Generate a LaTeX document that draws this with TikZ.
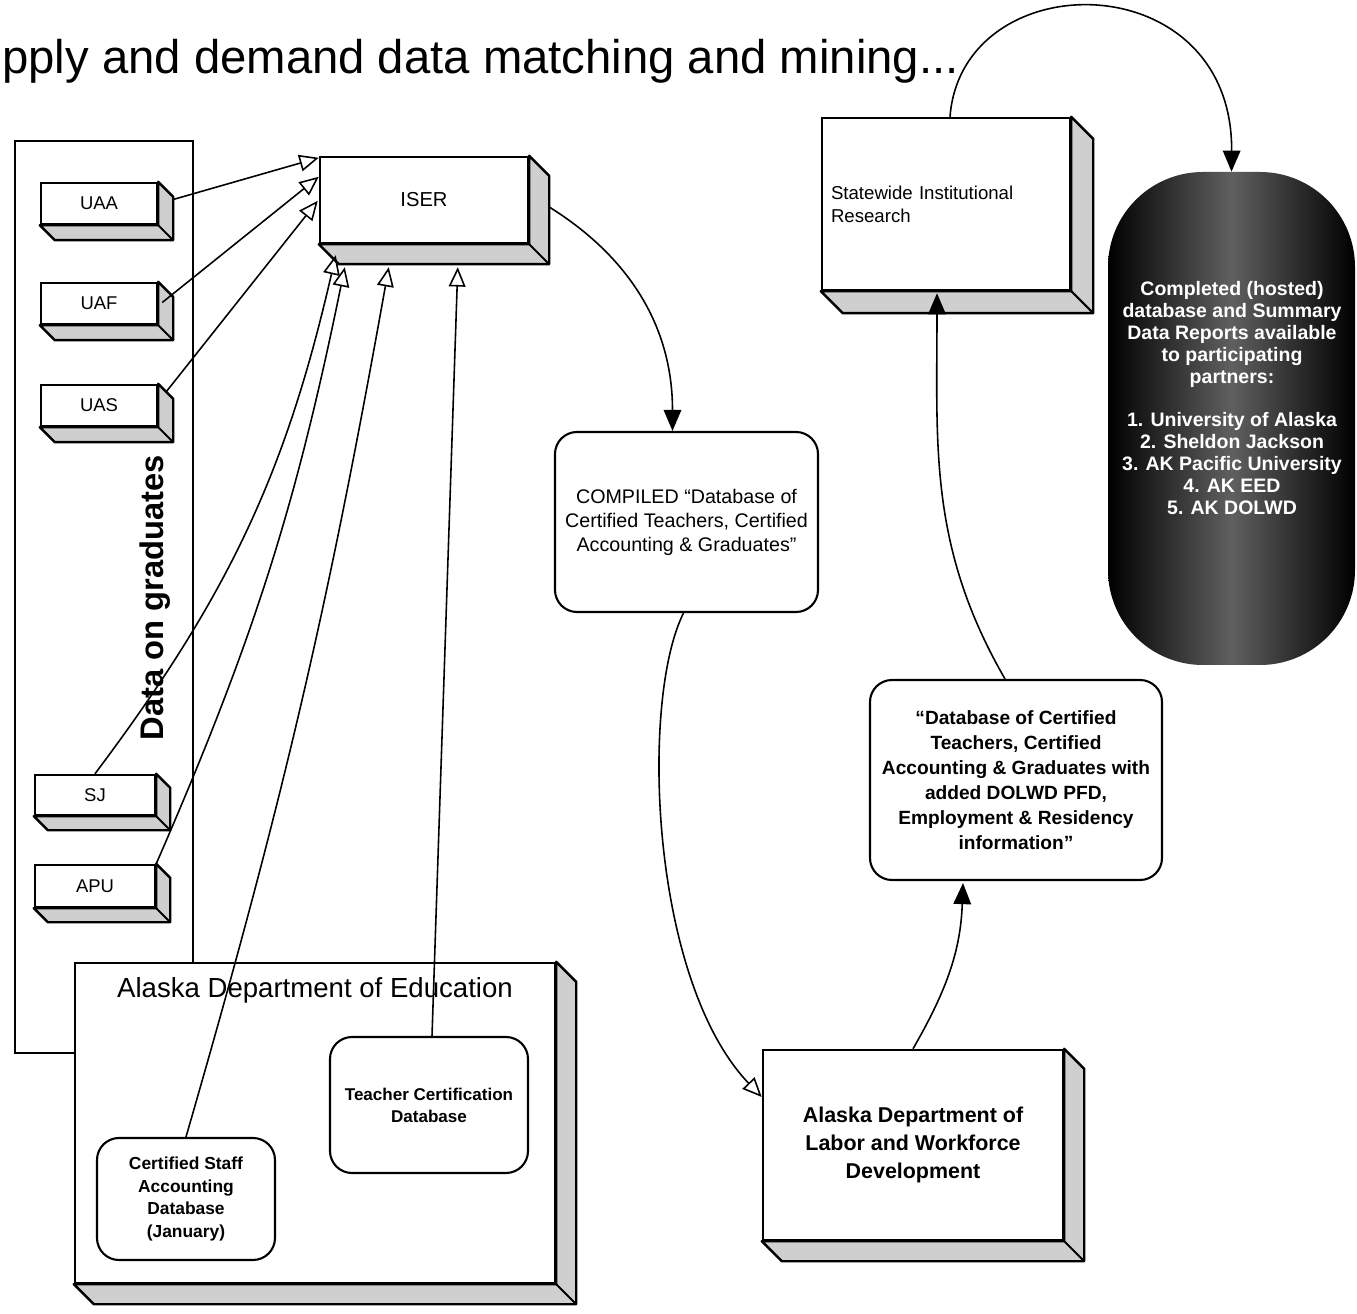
\documentclass[tikz,border=0pt]{standalone}
\usepackage{fontspec}
\setmainfont{Liberation Sans}
\usetikzlibrary{arrows.meta,calc}
\newcommand{\extrude}[2]{%
  \filldraw[sideface] (#1.north east) -- ++(#2,-#2) -- ([shift={(#2,-#2)}]#1.south east) -- ([shift={(#2,-#2)}]#1.south west) -- (#1.south west) -- (#1.south east) -- cycle;
  \draw[line width=1.2pt] (#1.south east) -- ++(#2,-#2);
}
\begin{document}
\begin{tikzpicture}[x=0.02cm,y=0.02cm,
  sz/.style 2 args={minimum width=#1*0.02cm, minimum height=#2*0.02cm},
  fs/.style 2 args={font=\fontsize{#1}{#2}\selectfont},
  fsb/.style 2 args={font=\fontsize{#1}{#2}\selectfont\bfseries},
  front/.style={draw, line width=1.4pt, fill=white, inner sep=0pt, align=center},
  rbox/.style={draw, line width=1.2pt, fill=white, inner sep=0pt, align=center, rounded corners=0.44cm},
  sideface/.style={fill=gray!38, draw, line width=1.4pt, line join=round},
  conn/.style={line width=0.9pt},
  hollow/.style={conn, -{Triangle[open, length=11pt, width=9.5pt]}},
  filledtip/.style={conn, -{Triangle[length=12pt, width=10pt]}},
]
\useasboundingbox (0,0) rectangle (1357,-1314);

% title
\node[anchor=base west, inner sep=0pt, fs={26.9}{30}] (title) at (2,-74) {pply and demand data matching and mining...};

% data on graduates panel
\node[draw, line width=1.1pt, inner sep=0pt, sz={178}{912}] (panel) at (104,-597) {};
\node[rotate=90, inner sep=0pt, fsb={18.6}{22}] (dog) at (155,-598) {Data on graduates};

\node[front, sz={116}{41}, fs={10.5}{12}] (uaa) at (99,-203.5) {UAA};
\extrude{uaa}{15}
\node[front, sz={116}{41}, fs={10.5}{12}] (uaf) at (99,-303.5) {UAF};
\extrude{uaf}{15}
\node[front, sz={116}{41}, fs={10.5}{12}] (uas) at (99,-405.5) {UAS};
\extrude{uas}{15}
\node[front, sz={120}{40}, fs={10.5}{12}] (sj) at (95,-795) {SJ};
\extrude{sj}{14}
\node[front, sz={120}{42}, fs={10.5}{12}] (apu) at (95,-886) {APU};
\extrude{apu}{14}

% ISER
\node[front, sz={208}{86}, fs={11.5}{13}] (iser) at (424,-200) {ISER};
\extrude{iser}{20}

% Statewide
\node[front, sz={248}{172}, fs={10.6}{13}, text width=4.6cm, align=left] (sir) at (946,-204) {Statewide Institutional\\Research};
\extrude{sir}{22}

% pill
\node[inner sep=0pt, sz={247}{493}, rounded corners=1.9cm, left color=black, right color=black, middle color=gray!75!black] (pill) at (1231.5,-418.5) {};
\node[text=white, fsb={11.1}{12.5}, align=center, inner sep=0pt] (pilltext) at (1232,-398) {Completed (hosted)\\database and Summary\\Data Reports available\\to participating\\partners:\\[12.5pt]1. University of Alaska\\2. Sheldon Jackson\\3. AK Pacific University\\4. AK EED\\5. AK DOLWD};

% compiled
\node[rbox, sz={263}{180}, fs={11.2}{13.7}] (comp) at (686.5,-522) {COMPILED “Database of\\Certified Teachers, Certified\\Accounting \& Graduates”};

% database with DOLWD
\node[rbox, sz={292}{200}, fsb={10.9}{14.2}] (dbd) at (1016,-780) {“Database of Certified\\Teachers, Certified\\Accounting \& Graduates with\\added DOLWD PFD,\\Employment \& Residency\\information”};

% labor
\node[front, sz={300}{190}, fsb={12.2}{16}] (labor) at (913,-1145) {Alaska Department of\\Labor and Workforce\\Development};
\extrude{labor}{20}

% ADE
\node[front, sz={480}{320}] (ade) at (315,-1123) {};
\extrude{ade}{20}
\node[fs={15.7}{18}, inner sep=0pt] (adet) at (315,-990) {Alaska Department of Education};
\node[rbox, sz={198}{136}, fsb={9.7}{12.5}] (tcd) at (429,-1105) {Teacher Certification\\Database};
\node[rbox, sz={178}{122}, fsb={9.9}{13}] (csa) at (186,-1199) {Certified Staff\\Accounting\\Database\\(January)};

% connectors into ISER
\draw[hollow] ([shift={(15,4)}]uaa.east) -- ([shift={(0,-2)}]iser.north west);
\draw[hollow] ([shift={(4,1)}]uaf.east) -- ([shift={(0,-21)}]iser.north west);
\draw[hollow] ([shift={(8,-8)}]uas.north east) -- ([shift={(-1,-45)}]iser.north west);
\draw[hollow] (sj.north) to[bend right=12] ([shift={(17,-11)}]iser.south west);
\draw[hollow] (apu.north east) to[bend right=6] ([shift={(26,-23)}]iser.south west);
\draw[hollow] (csa.north) to[bend right=3] ([shift={(70,-23)}]iser.south west);
\draw[hollow] ([shift={(3,0)}]tcd.north) -- ([shift={(139,-23)}]iser.south west);

% flow
\draw[filledtip] ([shift={(20,-7)}]iser.east) to[out=-32,in=90] ([shift={(-14,0)}]comp.north);
\draw[hollow] ([shift={(-3,0)}]comp.south) .. controls (640,-700) and (650,-980) .. ([shift={(0,48)}]labor.west);
\draw[filledtip] (labor.north) to[out=60,in=-92] ([shift={(-53,-2)}]dbd.south);
\draw[filledtip] ([shift={(-11,0)}]dbd.north) to[out=120,in=-90] ([shift={(-9,-2)}]sir.south);
\draw[filledtip] ([shift={(4,0)}]sir.north) .. controls (962,38) and (1233,38) .. (pill.north);
\end{tikzpicture}
\end{document}
